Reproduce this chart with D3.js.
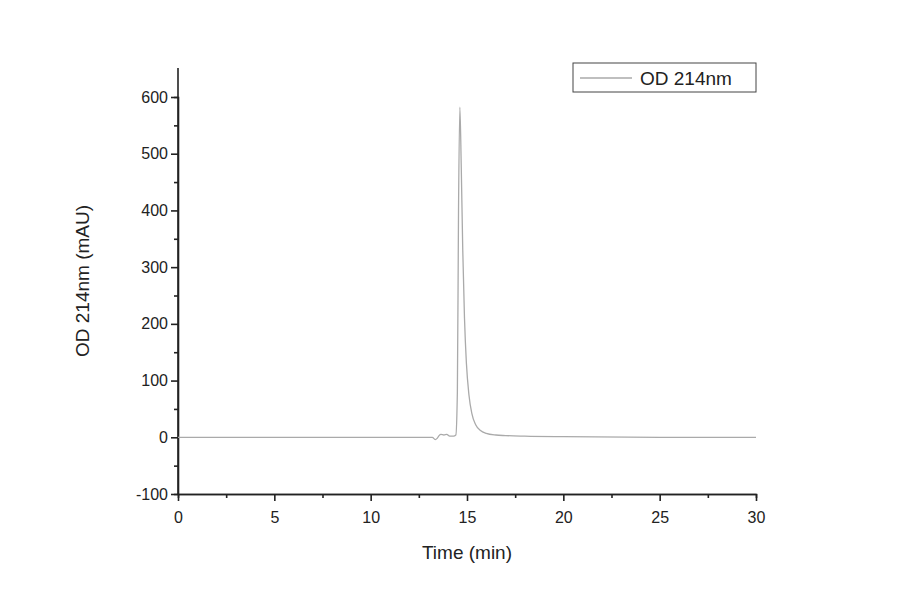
<!DOCTYPE html><html><head><meta charset="utf-8"><script src="https://cdn.jsdelivr.net/npm/d3@7"></script>
<style>body{margin:0;background:#fff}text{font-family:"Liberation Sans",Arial,sans-serif;fill:#222}</style></head><body>
<svg id="c" width="900" height="594"></svg>
<script>
const times=[0,5,10,13.2,13.35,13.45,13.55,13.65,13.8,13.95,14.1,14.3,14.42,14.5,14.56,14.63,14.7,14.78,14.87,14.97,15.1,15.25,15.45,15.7,16,16.5,17,18,20,25,30];
const od=[0,0,0,0,-4,-2,3,5,4,5,2,2,4,80,400,582,480,330,210,130,75,42,22,12,7,4,3,2,1,0,0];
const xTicks=[0,5,10,15,20,25,30];
const yTicks=[-100,0,100,200,300,400,500,600];
const svg=d3.select("#c");
const x=d3.scaleLinear().domain([0,30]).range([178,756]);
const y=d3.scaleLinear().domain([-100,600]).range([494,97]);
const ax=svg.append("g").attr("transform","translate(0,494)").call(d3.axisBottom(x).tickValues(xTicks).tickSize(7).tickSizeOuter(0).tickFormat(d=>String(d)));
ax.append("g").call(d3.axisBottom(x).tickValues(d3.range(2.5,30,5)).tickSize(4).tickFormat(""));
const ay=svg.append("g").attr("transform","translate(178,0)").call(d3.axisLeft(y).tickValues(yTicks).tickSize(7).tickSizeOuter(0).tickFormat(d=>String(d)));
ay.append("g").call(d3.axisLeft(y).tickValues(d3.range(-50,650,100)).tickSize(4).tickFormat(""));
ay.select(".domain").attr("d","M0,494V68");
svg.selectAll(".domain,.tick line").attr("stroke","#222").attr("stroke-width",1.6);
svg.selectAll(".tick text").style("font-size","16px");
ax.selectAll(".tick text").attr("dy","1.2em");
svg.append("path").datum(times.map((t,i)=>[t,od[i]])).attr("fill","none").attr("stroke","#aaa").attr("stroke-width",1.3)
 .attr("d",d3.line().x(d=>x(d[0])).y(d=>y(d[1])).curve(d3.curveMonotoneX));
svg.append("text").attr("x",467).attr("y",559).attr("text-anchor","middle").style("font-size","19px").text("Time (min)");
svg.append("text").attr("transform","translate(89,281) rotate(-90)").attr("text-anchor","middle").style("font-size","19px").text("OD 214nm (mAU)");
svg.append("rect").attr("x",573).attr("y",63).attr("width",183).attr("height",29).attr("fill","none").attr("stroke","#444");
svg.append("line").attr("x1",580).attr("x2",632).attr("y1",78).attr("y2",78).attr("stroke","#aaa").attr("stroke-width",1.3);
svg.append("text").attr("x",640).attr("y",85).style("font-size","19px").text("OD 214nm");
</script></body></html>
